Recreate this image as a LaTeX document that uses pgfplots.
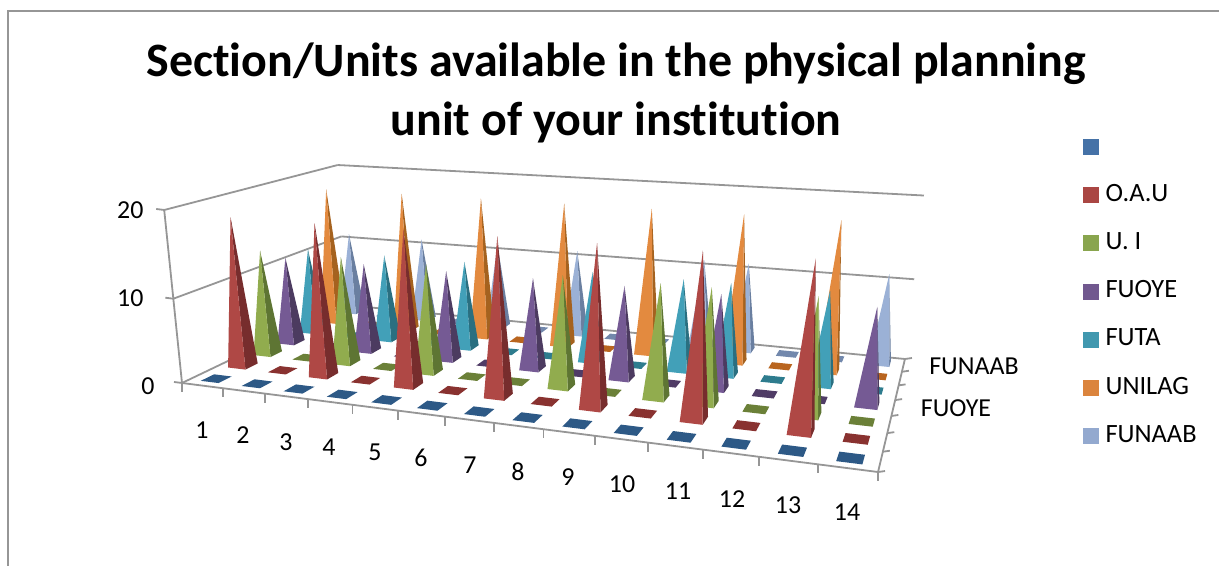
\documentclass[border=0pt]{standalone}
\usepackage{fontspec}
\setmainfont{Carlito}[Ligatures=NoCommon]
\usepackage{pgfplots}
\usepackage{pgfplotstable}
\pgfplotsset{compat=1.18}

% value per category (rows) and series (columns), front row first
\pgfplotstableread{
blank OAU UI FUOYE FUTA UNILAG FUNAAB
0 18 13 11 11 18 11
0 0 0 0 0 0 0
0 18 13 11 11 18 11
0 0 0 0 0 0 0
0 18 13 11 11 18 11
0 0 0 0 0 0 0
0 18 0 11 0 18 11
0 0 13 0 11 0 0
0 18 0 11 0 18 0
0 0 13 0 11 0 11
0 18 13 11 11 18 11
0 0 0 0 0 0 0
0 18 13 0 11 18 0
0 0 0 11 0 0 11
}\unitsdata

\definecolor{ser1}{HTML}{4A7EBB}\definecolor{dk1}{HTML}{2D5986}\definecolor{tl1}{HTML}{2D5986}
\definecolor{ser2}{HTML}{AF4845}\definecolor{dk2}{HTML}{772D2D}\definecolor{tl2}{HTML}{893230}
\definecolor{ser3}{HTML}{91AC4E}\definecolor{dk3}{HTML}{5E7533}\definecolor{tl3}{HTML}{6B8038}
\definecolor{ser4}{HTML}{755A94}\definecolor{dk4}{HTML}{4C3B60}\definecolor{tl4}{HTML}{503C66}
\definecolor{ser5}{HTML}{42A0B8}\definecolor{dk5}{HTML}{2A6F80}\definecolor{tl5}{HTML}{2E7C8E}
\definecolor{ser6}{HTML}{E38A3F}\definecolor{dk6}{HTML}{A5621F}\definecolor{tl6}{HTML}{B9651F}
\definecolor{ser7}{HTML}{9BB1D6}\definecolor{dk7}{HTML}{6A7FA0}\definecolor{tl7}{HTML}{7288AC}
\definecolor{lg1}{HTML}{4572A7}\definecolor{lg2}{HTML}{AA4643}\definecolor{lg3}{HTML}{89A54E}
\definecolor{lg4}{HTML}{71588F}\definecolor{lg5}{HTML}{4198AF}\definecolor{lg6}{HTML}{DB843D}
\definecolor{lg7}{HTML}{93A9CF}
\definecolor{wall}{HTML}{969696}

% perspective: floor position u,v in 0..1, height z in 0..1 (z = value/20)
\newcommand\proj[3]{%
  \pgfmathsetmacro\pw{1-0.1893*(#1)+0.2520*(#2)-0.05*(#3)}%
  \pgfmathsetmacro\px{(182+529.8*(#1)+249.9*(#2)-26*(#3))/\pw}%
  \pgfmathsetmacro\py{566-(383-0.35*(#1)-1.14*(#2)-183.5*(#3))/\pw}%
}
\newcommand\pyr[3]{% category, series, value
  \pgfmathsetmacro\uo{(#1-0.5)/14}\pgfmathsetmacro\vo{(#2-0.5)/7}%
  \pgfmathsetmacro\ua{\uo-0.22/14}\pgfmathsetmacro\ub{\uo+0.22/14}%
  \pgfmathsetmacro\va{\vo-0.24/7}\pgfmathsetmacro\vb{\vo+0.24/7}%
  \proj{\ua}{\va}{0}\edef\Ax{\px}\edef\Ay{\py}%
  \proj{\ub}{\va}{0}\edef\Bx{\px}\edef\By{\py}%
  \proj{\ub}{\vb}{0}\edef\Cx{\px}\edef\Cy{\py}%
  \proj{\ua}{\vb}{0}\edef\Dx{\px}\edef\Dy{\py}%
  \pgfmathsetmacro\zz{#3/20}%
  \proj{\uo}{\vo}{\zz}%
  \ifdim#3pt=0pt
    \edef\tmp{\noexpand\addplot[fill=tl#2,draw=none,forget plot] coordinates {(\Ax,\Ay) (\Bx,\By) (\Cx,\Cy) (\Dx,\Dy)} -- cycle;}\tmp
  \else
    \edef\tmp{\noexpand\addplot[fill=dk#2,draw=none,forget plot] coordinates {(\Bx,\By) (\Cx,\Cy) (\px,\py)} -- cycle;}\tmp
    \edef\tmp{\noexpand\addplot[fill=ser#2,draw=none,forget plot] coordinates {(\Ax,\Ay) (\Bx,\By) (\px,\py)} -- cycle;}\tmp
  \fi
}
\newcommand\seg[6]{% wall or axis line between two projected points
  \proj{#1}{#2}{#3}\edef\Ax{\px}\edef\Ay{\py}%
  \proj{#4}{#5}{#6}%
  \edef\tmp{\noexpand\addplot[wall,line width=1.8bp,forget plot] coordinates {(\Ax,\Ay) (\px,\py)};}\tmp
}
\newcommand\tickm[5]{% tick at u,v,z with pixel offset
  \proj{#1}{#2}{#3}%
  \pgfmathsetmacro\qx{\px+#4}\pgfmathsetmacro\qy{\py+#5}%
  \edef\tmp{\noexpand\addplot[wall,line width=1.8bp,forget plot] coordinates {(\px,\py) (\qx,\qy)};}\tmp
}

\begin{document}
\begin{tikzpicture}
\useasboundingbox (0,0) rectangle (1219bp,566bp);
\begin{axis}[
  at={(0,0)},anchor=south west,
  scale only axis,width=1219bp,height=566bp,
  xmin=0,xmax=1219,ymin=0,ymax=566,
  hide axis,clip=false,
  legend cell align=left,
  legend image code/.code={\fill[#1] (0bp,-7.5bp) rectangle (15bp,7.5bp);},
  legend style={
    at={(1080/1219,1-132/566)},anchor=north west,
    draw=none,fill=none,font=\fontsize{26.5}{26.5}\selectfont,
    row sep=23.2bp,
    /tikz/column 1/.style={column sep=5bp},
    nodes={inner sep=2pt,text height=17bp,text depth=4bp,xshift=4bp},
  },
]
% chart frame
\addplot[wall,line width=2.4bp,forget plot] coordinates {(8,0) (8,555) (1219,555)};

% walls and floor
\seg{0}{0}{0}{0}{1}{0}
\seg{0}{1}{0}{1}{1}{0}
\seg{1}{1}{0}{1}{0}{0}
\seg{1}{0}{0}{0}{0}{0}
\seg{0}{0}{0}{0}{0}{1}
\seg{0}{0}{0.5}{0}{1}{0.5}
\seg{0}{1}{0.5}{1}{1}{0.5}
\seg{0}{0}{1}{0}{1}{1}
\seg{0}{1}{1}{1}{1}{1}
\tickm{0}{0}{0}{-8}{1}
\tickm{0}{0}{0.5}{-8}{1}
\tickm{0}{0}{1}{-8}{1}
\pgfplotsforeachungrouped \k in {0,...,14}{%
  \pgfmathsetmacro\tu{\k/14}%
  \tickm{\tu}{0}{0}{0}{-9}%
}
\pgfplotsforeachungrouped \k in {0,...,7}{%
  \pgfmathsetmacro\tv{\k/7}%
  \tickm{1}{\tv}{0}{7}{1}%
}

% pyramids, back row first
\pgfplotsforeachungrouped \s in {7,6,...,1}{%
  \pgfplotsforeachungrouped \c in {1,...,14}{%
    \pgfmathtruncatemacro\row{\c-1}%
    \pgfmathtruncatemacro\col{\s-1}%
    \pgfplotstablegetelem{\row}{[index]\col}\of\unitsdata
    \edef\val{\pgfplotsretval}%
    \edef\go{\noexpand\pyr{\c}{\s}{\val}}\go
  }%
}

% legend
\addlegendimage{lg1}\addlegendentry{\strut}
\addlegendimage{lg2}\addlegendentry{O.A.U}
\addlegendimage{lg3}\addlegendentry{U. I}
\addlegendimage{lg4}\addlegendentry{FUOYE}
\addlegendimage{lg5}\addlegendentry{FUTA}
\addlegendimage{lg6}\addlegendentry{UNILAG}
\addlegendimage{lg7}\addlegendentry{FUNAAB}

% title and tick labels
\node[font=\fontsize{48.1}{59}\selectfont\bfseries,align=center] at (axis cs:616,566-93)
  {Section/Units available in the physical planning\\unit of your institution};
\begin{scope}[every node/.style={font=\fontsize{26}{26}\selectfont}]
\node[anchor=east] at (axis cs:158,566-386) {0};
\node[anchor=east] at (axis cs:147,566-298) {10};
\node[anchor=east] at (axis cs:147,566-210) {20};
\node at (axis cs:202,566-430) {1};
\node at (axis cs:243,566-435) {2};
\node at (axis cs:286,566-442) {3};
\node at (axis cs:329,566-447) {4};
\node at (axis cs:375,566-452) {5};
\node at (axis cs:421,566-458) {6};
\node at (axis cs:470,566-465) {7};
\node at (axis cs:518,566-472) {8};
\node at (axis cs:568,566-477) {9};
\node at (axis cs:622,566-484) {10};
\node at (axis cs:678,566-491) {11};
\node at (axis cs:732,566-499) {12};
\node at (axis cs:788,566-505) {13};
\node at (axis cs:847,566-512) {14};
\node at (axis cs:974,566-366) {FUNAAB};
\node at (axis cs:956,566-408) {FUOYE};
\end{scope}
\end{axis}
\end{tikzpicture}
\end{document}
